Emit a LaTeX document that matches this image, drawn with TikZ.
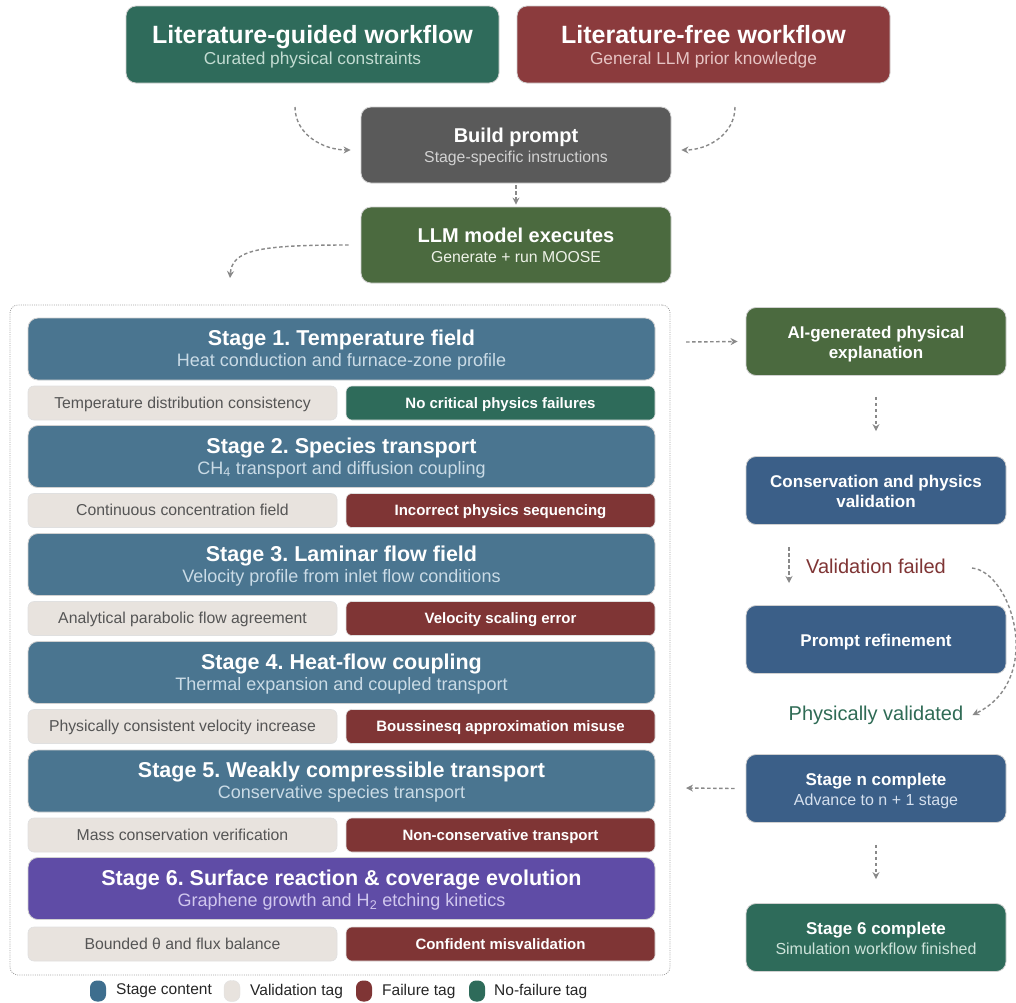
\documentclass[tikz,border=0pt]{standalone}
\usepackage{fontspec}
\setmainfont{Liberation Sans}
\usetikzlibrary{arrows.meta}
\frenchspacing

\definecolor{cLG}{HTML}{2F6B5B}
\definecolor{cLGsub}{HTML}{C3DCD2}
\definecolor{cLF}{HTML}{8B3B3D}
\definecolor{cLFsub}{HTML}{E6C4C4}
\definecolor{cBP}{HTML}{5A5A5A}
\definecolor{cBPsub}{HTML}{D2D2D2}
\definecolor{cLLM}{HTML}{4B6A3F}
\definecolor{cLLMsub}{HTML}{EEF2E8}
\definecolor{cStage}{HTML}{4A7590}
\definecolor{cStageSub}{HTML}{CADBE6}
\definecolor{cSix}{HTML}{5F4CA6}
\definecolor{cSixSub}{HTML}{D0C7EE}
\definecolor{cVal}{HTML}{E8E3DE}
\definecolor{cValTxt}{HTML}{555555}
\definecolor{cFail}{HTML}{7F3535}
\definecolor{cOK}{HTML}{2E6B5A}
\definecolor{cOKsub}{HTML}{CDE3DA}
\definecolor{cBlue}{HTML}{3B5F88}
\definecolor{cBlueSub}{HTML}{D5E0EE}
\definecolor{cArrow}{HTML}{898989}
\definecolor{cRedTxt}{HTML}{7F3535}
\definecolor{cGreenTxt}{HTML}{2F6B55}
\definecolor{cLegBlue}{HTML}{3E6E8E}

% line struts: title height / subtitle depth
\newcommand{\tTop}{\rule{0pt}{23.5pt}}
\newcommand{\tMid}{\rule{0pt}{20.4pt}}
\newcommand{\tStg}{\rule{0pt}{19.4pt}}
\newcommand{\tRgt}{\rule{0pt}{18.6pt}}
\newcommand{\sDp}{\rule[-5pt]{0pt}{5pt}}

\tikzset{
  box/.style={rounded corners=10pt, draw=black!18, line width=0.8pt, align=center, inner sep=0pt, text=white},
  topbox/.style={box, minimum width=373pt, minimum height=77pt, font=\fontsize{17.3}{20.5}\selectfont},
  midbox/.style={box, minimum width=310pt, minimum height=76pt, font=\fontsize{15.8}{20}\selectfont},
  stagebox/.style={box, minimum width=627pt, minimum height=62pt, font=\fontsize{18}{21}\selectfont},
  tagbox/.style={rounded corners=6pt, draw=black!12, line width=0.6pt, minimum width=309pt, minimum height=34pt, inner sep=0pt, text height=13pt, text depth=3pt},
  valtag/.style={tagbox, fill=cVal, text=cValTxt, font=\fontsize{15.8}{18}\selectfont},
  failtag/.style={tagbox, fill=cFail, text=white, font=\fontsize{15}{18}\selectfont\bfseries},
  oktag/.style={tagbox, fill=cOK, text=white, font=\fontsize{15}{18}\selectfont\bfseries},
  rbox/.style={box, minimum width=260pt, minimum height=68pt, font=\fontsize{17}{20}\selectfont\bfseries},
  flow/.style={draw=cArrow, line width=1.4pt, dash pattern=on 3.5pt off 2.5pt, -{Stealth[length=7pt,width=7pt]}},
  legmark/.style={rounded corners=7pt, minimum width=16pt, minimum height=21pt, inner sep=0pt},
  legtext/.style={anchor=west, inner sep=0pt, font=\fontsize{15.5}{18}\selectfont, text=black!85},
}

\begin{document}
\begin{tikzpicture}[x=1pt,y=-1pt]
\useasboundingbox (0,0) rectangle (1016,1002);
\fill[white] (0,0) rectangle (1016,1002);

% top boxes
\node[topbox, fill=cLG] (lg) at (312.5,44.5) {{\fontsize{25}{25}\selectfont\bfseries\tTop Literature-guided workflow}\\{\color{cLGsub}\sDp Curated physical constraints}};
\node[topbox, fill=cLF] (lf) at (703.5,44.5) {{\fontsize{25}{25}\selectfont\bfseries\tTop Literature-free workflow}\\{\color{cLFsub}\sDp General LLM prior knowledge}};

\node[midbox, fill=cBP] (bp) at (516,145) {{\fontsize{20}{20}\selectfont\bfseries\tMid Build prompt}\\{\color{cBPsub}\sDp Stage-specific instructions}};
\node[midbox, fill=cLLM] (llm) at (516,245) {{\fontsize{20}{20}\selectfont\bfseries\tMid LLM model executes}\\{\color{cLLMsub}\sDp Generate + run MOOSE}};

\coordinate (lgA) at (295,107);
\coordinate (lfA) at (735,107);
\coordinate (llmEnd) at (230,278);
\draw[flow] (lgA) to[out=-90,in=180] ([xshift=-10pt,yshift=-5pt]bp.west);
\draw[flow] (lfA) to[out=-90,in=0] ([xshift=10pt,yshift=-5pt]bp.east);
\draw[flow, shorten <=2pt, shorten >=2pt] (bp.south) -- (llm.north);
\draw[flow] ([xshift=-12pt]llm.west) .. controls (258,245) and (232,250) .. (llmEnd);

% container
\node[draw=black!35, line width=0.8pt, dash pattern=on 1pt off 1.2pt, rounded corners=8pt, minimum width=660pt, minimum height=670pt, inner sep=0pt] (frame) at (340,640) {};

% stages
\node[stagebox, fill=cStage] (s1) at (341.5,349) {{\fontsize{21.5}{21.5}\selectfont\bfseries\tStg Stage 1. Temperature field}\\{\color{cStageSub}\sDp Heat conduction and furnace-zone profile}};
\node[valtag] (v1) at (182.5,403) {Temperature distribution consistency};
\node[oktag] (f1) at (500.5,403) {No critical physics failures};

\node[stagebox, fill=cStage] (s2) at (341.5,456.5) {{\fontsize{21.5}{21.5}\selectfont\bfseries\tStg Stage 2. Species transport}\\{\color{cStageSub}\sDp CH\textsubscript{4} transport and diffusion coupling}};
\node[valtag] (v2) at (182.5,510.5) {Continuous concentration field};
\node[failtag] (f2) at (500.5,510.5) {Incorrect physics sequencing};

\node[stagebox, fill=cStage] (s3) at (341.5,564.5) {{\fontsize{21.5}{21.5}\selectfont\bfseries\tStg Stage 3. Laminar flow field}\\{\color{cStageSub}\sDp Velocity profile from inlet flow conditions}};
\node[valtag] (v3) at (182.5,618.5) {Analytical parabolic flow agreement};
\node[failtag] (f3) at (500.5,618.5) {Velocity scaling error};

\node[stagebox, fill=cStage] (s4) at (341.5,672.5) {{\fontsize{21.5}{21.5}\selectfont\bfseries\tStg Stage 4. Heat-flow coupling}\\{\color{cStageSub}\sDp Thermal expansion and coupled transport}};
\node[valtag] (v4) at (182.5,726.5) {Physically consistent velocity increase};
\node[failtag] (f4) at (500.5,726.5) {Boussinesq approximation misuse};

\node[stagebox, fill=cStage] (s5) at (341.5,781) {{\fontsize{21.5}{21.5}\selectfont\bfseries\tStg Stage 5. Weakly compressible transport}\\{\color{cStageSub}\sDp Conservative species transport}};
\node[valtag] (v5) at (182.5,835) {Mass conservation verification};
\node[failtag] (f5) at (500.5,835) {Non-conservative transport};

\node[stagebox, fill=cSix] (s6) at (341.5,888.5) {{\fontsize{21.5}{21.5}\selectfont\bfseries\tStg Stage 6. Surface reaction \& coverage evolution}\\{\color{cSixSub}\sDp Graphene growth and H\textsubscript{2} etching kinetics}};
\node[valtag] (v6) at (182.5,944) {Bounded θ and flux balance};
\node[failtag] (f6) at (500.5,944) {Confident misvalidation};

% right column
\node[rbox, fill=cLLM] (ai) at (876,341.5) {\tRgt AI-generated physical\\\sDp explanation};
\node[rbox, fill=cBlue] (cons) at (876,490.5) {\tRgt Conservation and physics\\\sDp validation};
\node[rbox, fill=cBlue, text height=17pt, text depth=3pt] (pr) at (876,639.5) {Prompt refinement};
\node[rbox, fill=cBlue] (sn) at (876,788.5) {\tRgt Stage n complete\\{\mdseries\fontsize{16}{20}\selectfont\color{cBlueSub}\sDp Advance to n + 1 stage}};
\node[rbox, fill=cOK] (sc) at (876,937.5) {\tRgt Stage 6 complete\\{\mdseries\fontsize{16}{20}\selectfont\color{cOKsub}\sDp Simulation workflow finished}};

\node[text=cRedTxt, font=\fontsize{20}{24}\selectfont, inner sep=0pt] (vfl) at (876,566) {Validation failed};
\node[text=cGreenTxt, font=\fontsize{20}{24}\selectfont, inner sep=0pt] (pv) at (876,715) {Physically validated};

\coordinate (s1out) at (686,342);
\coordinate (vf1) at (789,547);
\coordinate (vf2) at (789,583);
\coordinate (loopA) at (972,568);
\coordinate (snout) at (686,788);

\draw[flow] (s1out) -- ([xshift=-8pt]ai.west);
\draw[flow, shorten <=21pt, shorten >=25pt] (ai.south) -- (cons.north);
\draw[flow] (vf1) -- (vf2);
\draw[flow] (loopA) .. controls (1012,572) and (1045,680) .. ([xshift=9pt]pv.east);
\draw[flow] ([xshift=-11pt]sn.west) -- (snout);
\draw[flow, shorten <=22pt, shorten >=24pt] (sn.south) -- (sc.north);

% legend
\node[legmark, fill=cLegBlue] (m1) at (98,991) {};
\node[legtext] (l1) at (116,991) {Stage content};
\node[legmark, fill=cVal, draw=black!12] (m2) at (232,991) {};
\node[legtext] (l2) at (250,991) {Validation tag};
\node[legmark, fill=cFail] (m3) at (364,991) {};
\node[legtext] (l3) at (382,991) {Failure tag};
\node[legmark, fill=cOK] (m4) at (477,991) {};
\node[legtext] (l4) at (494,991) {No-failure tag};
\end{tikzpicture}
\end{document}
